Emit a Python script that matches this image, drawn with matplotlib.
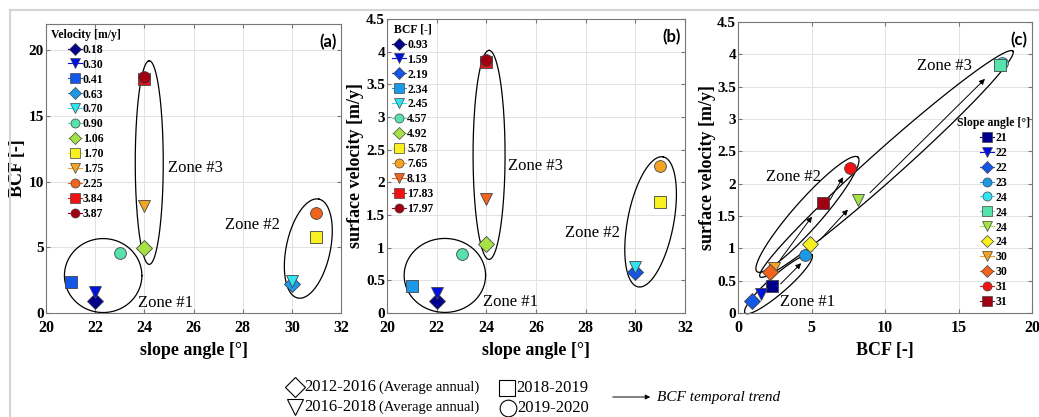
import numpy as np
import matplotlib
matplotlib.use("Agg")
import matplotlib.pyplot as plt
from matplotlib.lines import Line2D
from matplotlib.patches import FancyArrowPatch

plt.rcParams['font.family'] = ['Liberation Serif', 'DejaVu Serif']

# colours by rank within each legend (jet-like)
colors = ['#00008B', '#0010E0', '#1456E6', '#1C98E8', '#30E4F2', '#56E2AA',
          '#A4E246', '#F8F020', '#F4A424', '#F2641C', '#F01212', '#A00012']

# (a) sorted by velocity
vel_a = [0.18, 0.30, 0.41, 0.63, 0.70, 0.90, 1.06, 1.70, 1.75, 2.25, 3.84, 3.87]
slope_a = [22, 22, 21, 30, 30, 23, 24, 31, 24, 31, 24, 24]
bcf_a = [0.93, 1.59, 2.34, 2.19, 2.45, 4.57, 4.92, 5.78, 8.13, 7.65, 17.83, 17.97]
mk_a = ['D', 'v', 's', 'D', 'v', 'o', 'D', 's', 'v', 'o', 's', 'o']

# (b) sorted by BCF
bcf_b = [0.93, 1.59, 2.19, 2.34, 2.45, 4.57, 4.92, 5.78, 7.65, 8.13, 17.83, 17.97]
slope_b = [22, 22, 30, 21, 30, 23, 24, 31, 31, 24, 24, 24]
vel_b = [0.18, 0.30, 0.63, 0.41, 0.70, 0.90, 1.06, 1.70, 2.25, 1.75, 3.84, 3.87]
mk_b = ['D', 'v', 'D', 's', 'v', 'o', 'D', 's', 'o', 'v', 's', 'o']

# (c) sorted by slope angle
slope_c = [21, 22, 22, 23, 24, 24, 24, 24, 30, 30, 31, 31]
bcf_c = [2.34, 1.59, 0.93, 4.57, 17.97, 17.83, 8.13, 4.92, 2.45, 2.19, 7.65, 5.78]
vel_c = [0.41, 0.30, 0.18, 0.90, 3.87, 3.84, 1.75, 1.06, 0.70, 0.63, 2.25, 1.70]
mk_c = ['s', 'v', 'D', 'o', 'o', 's', 'v', 'D', 'v', 'D', 'o', 's']

# zone ellipses: major axis end points (data) and half width (px)
zones_a = [((20.75, 2.85), (23.9, 2.85), 37), ((24.2, 3.7), (24.2, 19.2), 14),
           ((30.24, 1.14), (31.1, 8.67), 22)]
zones_b = [((20.69, 0.575), (23.97, 0.575), 37), ((24.11, 0.82), (24.11, 4.02), 16),
           ((30.11, 0.40), (31.12, 2.39), 23)]
zones_c = [((0.48, 0.0), (5.03, 0.90), 9), ((1.29, 0.64), (8.16, 2.41), 14),
           ((1.5, 0.56), (18.7, 4.05), 15)]
zone_txt_a = [(23.76, 0.76), (27.3, 6.67), (24.98, 11.06)]
zone_txt_b = [(23.85, 0.17), (27.17, 1.22), (24.87, 2.25)]
zone_txt_c = [(2.86, 0.17), (1.9, 2.11), (12.18, 3.82)]
arrows_c = [((2.9, 0.45), (4.3, 0.77)), ((2.86, 0.82), (5.03, 1.49)),
            ((6.26, 1.75), (7.14, 2.1)), ((5.58, 1.13), (7.48, 1.60)),
            ((8.98, 1.86), (16.8, 3.62))]

W, H = 1039, 417
fig = plt.figure(figsize=(W / 100, H / 100), dpi=100)


def add_ax(l, r, t, b):
    return fig.add_axes([l / W, 1 - b / H, (r - l) / W, (b - t) / H])


def style(ax, xlim, ylim, xt, yt, xlabel, ylabel, tag, ylx):
    ax.set_xlim(xlim)
    ax.set_ylim(ylim)
    ax.set_xticks(xt)
    ax.set_yticks(yt)
    ax.set_xticklabels(['%g' % v for v in xt])
    ax.set_yticklabels(['%g' % v for v in yt])
    ax.grid(True, color='#e2e2e2', lw=0.7)
    ax.set_axisbelow(True)
    ax.tick_params(direction='in', length=3, top=True, right=True, color='#777777',
                   labelsize=11, pad=1.5)
    ax.tick_params(axis='x', pad=5, labelsize=11.5)
    for lab in ax.get_xticklabels() + ax.get_yticklabels():
        lab.set_fontweight('bold')
    for s in ax.spines.values():
        s.set_color('#777777')
        s.set_linewidth(0.8)
    ax.set_xlabel(xlabel, fontsize=13, fontweight='bold')
    ax.set_ylabel(ylabel, fontsize=13, fontweight='bold')
    ax.xaxis.set_label_coords(0.5, -0.1)
    ax.yaxis.set_label_coords(ylx, 0.5)
    ax.text(0.985, 0.965, tag, transform=ax.transAxes, ha='right', va='top',
            fontsize=12, fontweight='bold', family='Lato')


def zone(ax, p1, p2, hw):
    a = ax.transData.transform([p1, p2])
    c = a.mean(axis=0)
    d = (a[1] - a[0]) / 2
    n = np.array([-d[1], d[0]]) / np.hypot(d[0], d[1]) * hw
    t = np.linspace(0, 2 * np.pi, 200)
    pts = c + np.outer(np.cos(t), d) + np.outer(np.sin(t), n)
    q = ax.transData.inverted().transform(pts)
    ax.plot(q[:, 0], q[:, 1], color='black', lw=0.9, clip_on=False, zorder=2)


def scatter(ax, xs, ys, mks, labels, title, **lkw):
    handles = []
    for i in range(len(xs)):
        ax.plot(xs[i], ys[i], marker=mks[i], ms=8.5, color=colors[i], mec='#444444',
                mew=0.6, ls='none', zorder=3)
        handles.append(Line2D([], [], marker=mks[i], ms=6.5, color=colors[i],
                              mec='#444444', mew=0.5, lw=0.8, label=labels[i]))
    leg = ax.legend(handles=handles, title=title, frameon=False,
                    prop={'weight': 'bold', 'size': 8.5}, handlelength=1.2,
                    handletextpad=0.1, labelspacing=0.25, borderpad=0.2,
                    borderaxespad=0.2, **lkw)
    leg.get_title().set_fontweight('bold')
    leg.get_title().set_fontsize(8.5)


def zone_labels(ax, pos):
    for k, (x, y) in enumerate(pos):
        ax.text(x, y, 'Zone #%d' % (k + 1), fontsize=12, ha='left', va='center')


# (a)
ax1 = add_ax(46, 341, 24, 313)
style(ax1, (20, 32), (0, 22), range(20, 33, 2), range(0, 21, 5),
      'slope angle [°]', 'BCF [-]', '(a)', -0.068)
scatter(ax1, slope_a, bcf_a, mk_a, ['%.2f' % v for v in vel_a], 'Velocity [m/y]',
        loc='upper left', bbox_to_anchor=(0, 1))
for p1, p2, hw in zones_a:
    zone(ax1, p1, p2, hw)
zone_labels(ax1, zone_txt_a)

# (b)
ax2 = add_ax(387, 685, 19, 313)
style(ax2, (20, 32), (0, 4.5), range(20, 33, 2), np.arange(0, 4.51, 0.5),
      'slope angle [°]', 'surface velocity [m/y]', '(b)', -0.078)
scatter(ax2, slope_b, vel_b, mk_b, ['%.2f' % v for v in bcf_b], 'BCF [-]',
        loc='upper left', bbox_to_anchor=(0, 1))
for p1, p2, hw in zones_b:
    zone(ax2, p1, p2, hw)
zone_labels(ax2, zone_txt_b)

# (c)
ax3 = add_ax(738, 1032, 22, 313)
style(ax3, (0, 20), (0, 4.5), range(0, 21, 5), np.arange(0, 4.51, 0.5),
      'BCF [-]', 'surface velocity [m/y]', '(c)', -0.075)
scatter(ax3, bcf_c, vel_c, mk_c, ['%d' % v for v in slope_c], 'Slope angle [°]',
        loc='lower right', bbox_to_anchor=(1.01, 0))
for p1, p2, hw in zones_c:
    zone(ax3, p1, p2, hw)
for s, e in arrows_c:
    ax3.annotate('', xy=e, xytext=s,
                 arrowprops=dict(arrowstyle='-|>', color='black', lw=0.7,
                                 mutation_scale=8, shrinkA=0, shrinkB=0))
zone_labels(ax3, zone_txt_c)


# bottom key
def fx(x):
    return x / W


def fy(y):
    return 1 - y / H


periods = ['2012-2016', '2016-2018', '2018-2019', '2019-2020']
period_mk = ['D', 'v', 's', 'o']
key_xy = [(295, 387), (295, 407), (507, 388), (508, 408)]
for (x, y), m, lab in zip(key_xy, period_mk, periods):
    fig.add_artist(Line2D([fx(x)], [fy(y)], marker=m, ms=12 if m != 'D' else 10,
                          mfc='white', mec='black', mew=0.8, ls='none',
                          transform=fig.transFigure))
    fig.text(fx(x + 9), fy(y), lab, fontsize=12, va='center', ha='left')
for y in (387, 407):
    fig.text(fx(379), fy(y), '(Average annual)', fontsize=10.5, va='center', ha='left')
fig.add_artist(FancyArrowPatch(
    (fx(610), fy(397)), (fx(653), fy(397)), transform=fig.transFigure,
    arrowstyle='-|>', mutation_scale=7, lw=0.7, color='black'))
fig.text(fx(657), fy(397), 'BCF temporal trend', fontsize=11, style='italic',
         va='center', ha='left')

# outer frame lines
fig.add_artist(Line2D([fx(10), fx(10)], [fy(10), 0], color='#d4d4d4', lw=1.5,
                      transform=fig.transFigure))
fig.add_artist(Line2D([fx(10), 1], [fy(10), fy(10)], color='#d4d4d4', lw=1.5,
                      transform=fig.transFigure))

fig.savefig('out.png', dpi=100)
